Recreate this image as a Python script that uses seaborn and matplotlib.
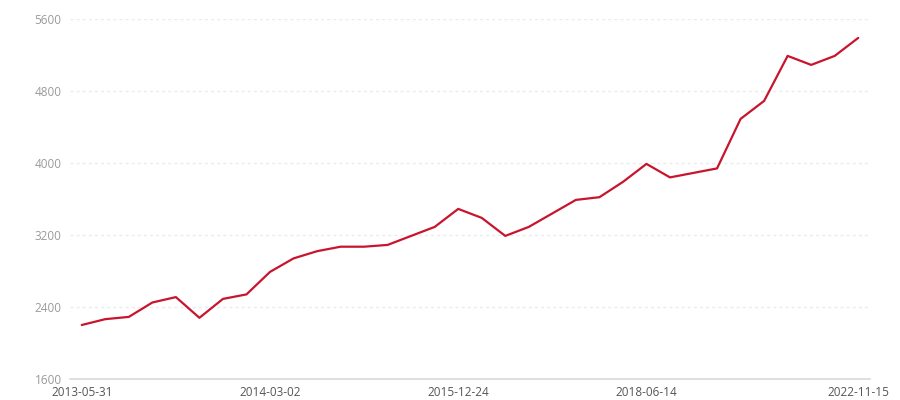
import numpy as np
import pandas as pd
import matplotlib
matplotlib.use('Agg')
import matplotlib.pyplot as plt
import seaborn as sns

# values, one per category (34 points)
values = [2200, 2265, 2290, 2450, 2510, 2280, 2490, 2540, 2790, 2940,
          3020, 3070, 3070, 3090, 3190, 3290, 3490, 3390, 3190, 3290,
          3440, 3590, 3620, 3790, 3990, 3840, 3890, 3940, 4490, 4690,
          5190, 5090, 5190, 5390]

# only these category labels are visible on the axis
tick_idx = [0, 8, 16, 24, 33]
tick_labels = ['2013-05-31', '2014-03-02', '2015-12-24', '2018-06-14', '2022-11-15']

y_ticks = [1600, 2400, 3200, 4000, 4800, 5600]

df = pd.DataFrame({'idx': np.arange(len(values)), 'value': values})

sns.set_style('white')
plt.rcParams['font.family'] = ['Open Sans', 'DejaVu Sans']

fig = plt.figure(figsize=(9, 4), dpi=100)
ax = fig.add_axes([70 / 900, 1 - 379 / 400, 800 / 900, 360 / 400])

sns.lineplot(data=df, x='idx', y='value', ax=ax, color='#c8152d', linewidth=1.6)

ax.set_xlim(-0.5, len(values) - 0.5)
ax.set_ylim(1600, 5600)
ax.set_yticks(y_ticks)
ax.set_yticklabels([str(v) for v in y_ticks])
ax.set_xticks(tick_idx)
ax.set_xticklabels(tick_labels)
ax.set_xlabel('')
ax.set_ylabel('')

# dashed horizontal grid
for v in y_ticks[1:]:
    ax.axhline(v, color='#ebebeb', linewidth=1, linestyle=(0, (2.2, 2.2)), zorder=0)

for s in ['top', 'right', 'left']:
    ax.spines[s].set_visible(False)
ax.spines['bottom'].set_color('#d9d9d9')
ax.spines['bottom'].set_linewidth(1.2)

ax.tick_params(axis='y', length=0, pad=6, labelsize=8.5, labelcolor='#9a9a9a')
ax.tick_params(axis='x', length=4, width=1, color='#d9d9d9', pad=1,
               labelsize=8.5, labelcolor='#555555')

fig.savefig('out.png', dpi=100, facecolor='white')
